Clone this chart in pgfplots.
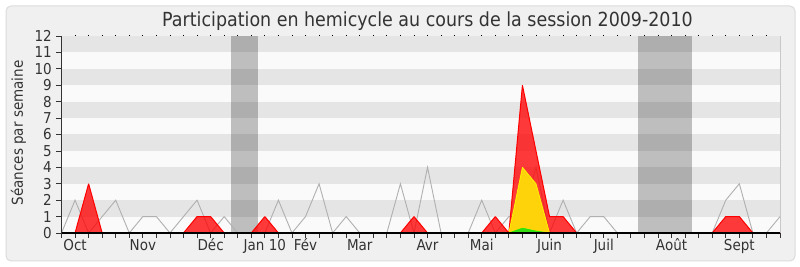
\documentclass[border=0pt]{standalone}
\usepackage{pgfplots}
\usepackage{pgfplotstable}
\pgfplotsset{compat=1.18}
\usepackage{fontspec}
\setmainfont{DejaVu Sans}[FakeStretch=0.9]

\definecolor{panel}{HTML}{F0F0F0}
\definecolor{panelrule}{HTML}{DCDCDC}
\definecolor{stripelight}{HTML}{FAFAFA}
\definecolor{stripedark}{HTML}{E5E5E5}
\definecolor{txt}{HTML}{333333}
\definecolor{sessline}{HTML}{B0B0B0}
\definecolor{rightrule}{HTML}{C8C8C8}
\definecolor{intfill}{HTML}{FFD30A}
\definecolor{intline}{HTML}{FFF200}
\definecolor{qfill}{HTML}{33DD11}
\definecolor{qline}{HTML}{22EE00}

% week index, sessions held, presences
\pgfplotstableread{
w sess pres
0 0 0
1 2 0
2 0 3
3 1 0
4 2 0
5 0 0
6 1 0
7 1 0
8 0 0
9 1 0
10 2 1
11 0 1
12 1 0
13 0 0
14 0 0
15 0 1
16 2 0
17 0 0
18 1 0
19 3 0
20 0 0
21 1 0
22 0 0
23 0 0
24 0 0
25 3 0
26 0 1
27 4 0
28 0 0
29 0 0
30 0 0
31 2 0
32 0 1
33 1 0
34 1 9
35 4 5
36 0 1
37 2 1
38 0 0
39 1 0
40 1 0
41 0 0
42 0 0
43 0 0
44 0 0
45 0 0
46 0 0
47 0 0
48 0 0
49 2 1
50 3 1
51 0 0
52 0 0
53 1 0
}\weeks

% weeks with interventions
\pgfplotstableread{
w inter quest
33 0 0
34 4 0.3
35 3 0.12
36 0 0
}\inter

\begin{document}
\begin{tikzpicture}
\useasboundingbox (0,0) rectangle (800pt,267pt);
\fill[white] (0,0) rectangle (800pt,267pt);
\draw[panelrule, fill=panel, line width=1pt, rounded corners=5pt] (6pt,6pt) rectangle (795pt,261pt);

\node[anchor=base, text=txt, font=\fontsize{19.4}{23}\selectfont] at (427.5pt,240.3pt)
  {Participation en hemicycle au cours de la session 2009-2010};
\node[rotate=90, text=txt, font=\fontsize{15}{18}\selectfont] at (18.5pt,134pt) {Séances par semaine};

\begin{axis}[
  at={(61.5pt,34pt)}, anchor=south west,
  scale only axis, width=718.5pt, height=197pt,
  xmin=0, xmax=53, ymin=0, ymax=12,
  axis on top,
  axis background/.style={fill=stripelight},
  axis x line*=bottom, axis y line*=left,
  x axis line style={black, line width=1.2pt},
  y axis line style={txt, line width=1pt},
  xtick={0,...,53},
  xticklabels={,Oct,,,,,Nov,,,,,Déc,,,,Jan 10,,,Fév,,,,Mar,,,,,Avr,,,,Mai,,,,,Juin,,,,Juil,,,,,Août,,,,,Sept,,,},
  ytick={0,...,12},
  /pgf/number format/assume math mode=true,
  tick align=outside, major tick length=5pt,
  tick style={txt, line width=0.8pt},
  xticklabel style={text=txt, font=\fontsize{15}{18}\selectfont, anchor=base, yshift=-12.7pt, inner sep=0pt},
  yticklabel style={text=txt, font=\fontsize{15}{18}\selectfont, inner sep=0pt, xshift=-4.5pt},
  clip=false,
]
% horizontal stripes
\fill[stripedark] (axis cs:0,1) rectangle (axis cs:53,2);
\fill[stripedark] (axis cs:0,3) rectangle (axis cs:53,4);
\fill[stripedark] (axis cs:0,5) rectangle (axis cs:53,6);
\fill[stripedark] (axis cs:0,7) rectangle (axis cs:53,8);
\fill[stripedark] (axis cs:0,9) rectangle (axis cs:53,10);
\fill[stripedark] (axis cs:0,11) rectangle (axis cs:53,12);
\draw[rightrule, line width=1pt] (rel axis cs:1,0) -- (rel axis cs:1,1);

% parliamentary recesses
\addplot[fill=black, fill opacity=0.24, draw=none] coordinates {(12.5,0) (12.5,12) (14.5,12) (14.5,0)};
\addplot[fill=black, fill opacity=0.24, draw=none] coordinates {(42.5,0) (42.5,12) (46.5,12) (46.5,0)};

% sittings held in the chamber
\addplot[sessline, line width=0.9pt, mark=none] table[x=w, y=sess] {\weeks};
% presences
\addplot[draw=red, line width=1pt, miter limit=1, fill=red, fill opacity=0.77, mark=none] table[x=w, y=pres] {\weeks} \closedcycle;
% long interventions
\addplot[draw=intline, line width=0.8pt, miter limit=1, fill=intfill, mark=none] table[x=w, y=inter] {\inter} \closedcycle;
% questions
\addplot[draw=qline, line width=0.6pt, miter limit=1, fill=qfill, mark=none] table[x=w, y=quest] {\inter} \closedcycle;
\end{axis}

% small tick marks along the top edge
\begin{axis}[
  at={(61.5pt,34pt)}, anchor=south west,
  scale only axis, width=718.5pt, height=197pt,
  xmin=0, xmax=53, ymin=0, ymax=12,
  axis line style={draw=none},
  ytick=\empty,
  xtick={1,...,52}, xticklabels={},
  xtick pos=right,
  tick align=outside, major tick length=1pt,
  tick style={black, line width=0.9pt},
]
\end{axis}
\end{tikzpicture}
\end{document}
